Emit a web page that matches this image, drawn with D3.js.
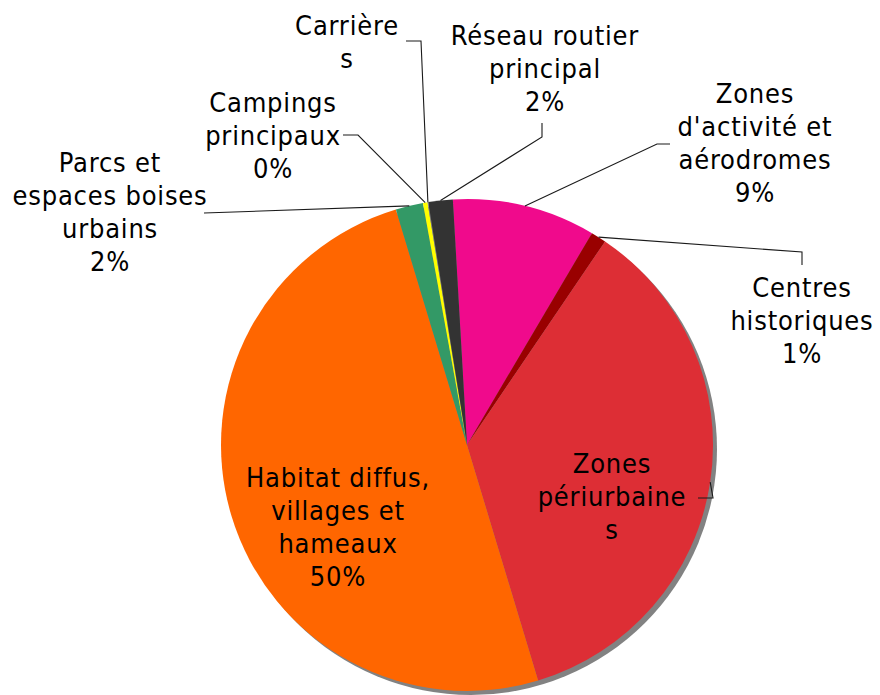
<!DOCTYPE html>
<html>
<head>
<meta charset="utf-8">
<script src="https://cdn.jsdelivr.net/npm/d3@7"></script>
<style>
  html, body { margin: 0; padding: 0; background: #fff; }
  svg text { font-family: "DejaVu Sans Condensed", "DejaVu Sans", sans-serif; font-stretch: condensed; fill: #000; letter-spacing: 0.8px; }
</style>
</head>
<body>
<svg id="chart" width="880" height="695"></svg>
<script>
// Land-use breakdown (share of surface, %)
const categories = [
  "Zones d'activité et aérodromes",
  "Centres historiques",
  "Zones périurbaines",
  "Habitat diffus, villages et hameaux",
  "Parcs et espaces boises urbains",
  "Campings principaux",
  "Carrières",
  "Réseau routier principal"
];
const shares = [9.4, 1.0, 35.85, 50.0, 1.8, 0.3, 0.05, 1.6];
const sliceColors = ["#F00A8C", "#990000", "#DD2E35", "#FF6600", "#339966", "#FFFF00", "#7F7F7F", "#333333"];
// Label text broken into lines as displayed
const labelLines = [
  ["Zones", "d'activité et", "aérodromes"],
  ["Centres", "historiques"],
  ["Zones", "périurbaine", "s"],
  ["Habitat diffus,", "villages et", "hameaux"],
  ["Parcs et", "espaces boises", "urbains"],
  ["Campings", "principaux"],
  ["Carrière", "s"],
  ["Réseau routier", "principal"]
];
const showPercent = [true, true, false, true, true, true, false, true];

const svg = d3.select("#chart");
const cx = 467, cy = 445, r = 246;
const startDeg = -3.3;

const pie = d3.pie().sort(null).value(d => d)
  .startAngle(startDeg * Math.PI / 180)
  .endAngle((startDeg + 360) * Math.PI / 180);
const arcs = pie(shares);
const total = d3.sum(shares);
const fmtPct = d3.format(".0%");

const arc = d3.arc().innerRadius(0).outerRadius(r);
const rim = d3.arc().innerRadius(r).outerRadius(r);

const g = svg.append("g").attr("transform", `translate(${cx},${cy})`);

// drop shadow behind the pie
g.append("circle")
  .attr("cx", 4).attr("cy", 4).attr("r", r)
  .attr("fill", "#828282");

g.selectAll("path.slice")
  .data(arcs)
  .join("path")
  .attr("class", "slice")
  .attr("d", arc)
  .attr("fill", (d, i) => sliceColors[i]);

// label placement: centre x, first baseline y, and leader elbow points (page coords)
const labelLayout = [
  { x: 755, y: 103, leader: [[670, 144], [657, 144]] },
  { x: 802, y: 297, leader: [[802, 265], [802, 252]] },
  { x: 612, y: 473, leader: [[698, 498], [713, 498]] },
  { x: 338, y: 487, leader: null },
  { x: 110, y: 172, leader: [[204, 213]] },
  { x: 273, y: 112, leader: [[343, 135], [358, 135]] },
  { x: 347, y: 35,  leader: [[406, 41], [421, 41]] },
  { x: 545, y: 45,  leader: [[542, 123], [542, 137]] }
];
const lineH = 33;

// leader lines from label to the slice rim at its mid angle
arcs.forEach((d, i) => {
  const L = labelLayout[i];
  if (!L.leader) return;
  const c = rim.centroid(d);
  const pts = L.leader.concat([[cx + c[0], cy + c[1]]]);
  svg.append("path")
    .attr("d", d3.line()(pts))
    .attr("fill", "none")
    .attr("stroke", "#1a1a1a")
    .attr("stroke-width", 1.1);
});

// labels
arcs.forEach((d, i) => {
  const L = labelLayout[i];
  const lines = labelLines[i].slice();
  if (showPercent[i]) lines.push(fmtPct(shares[i] / total));
  const t = svg.append("text")
    .attr("text-anchor", "middle")
    .attr("font-size", 27);
  lines.forEach((s, k) => {
    t.append("tspan").attr("x", L.x).attr("y", L.y + k * lineH).text(s);
  });
});
</script>
</body>
</html>
